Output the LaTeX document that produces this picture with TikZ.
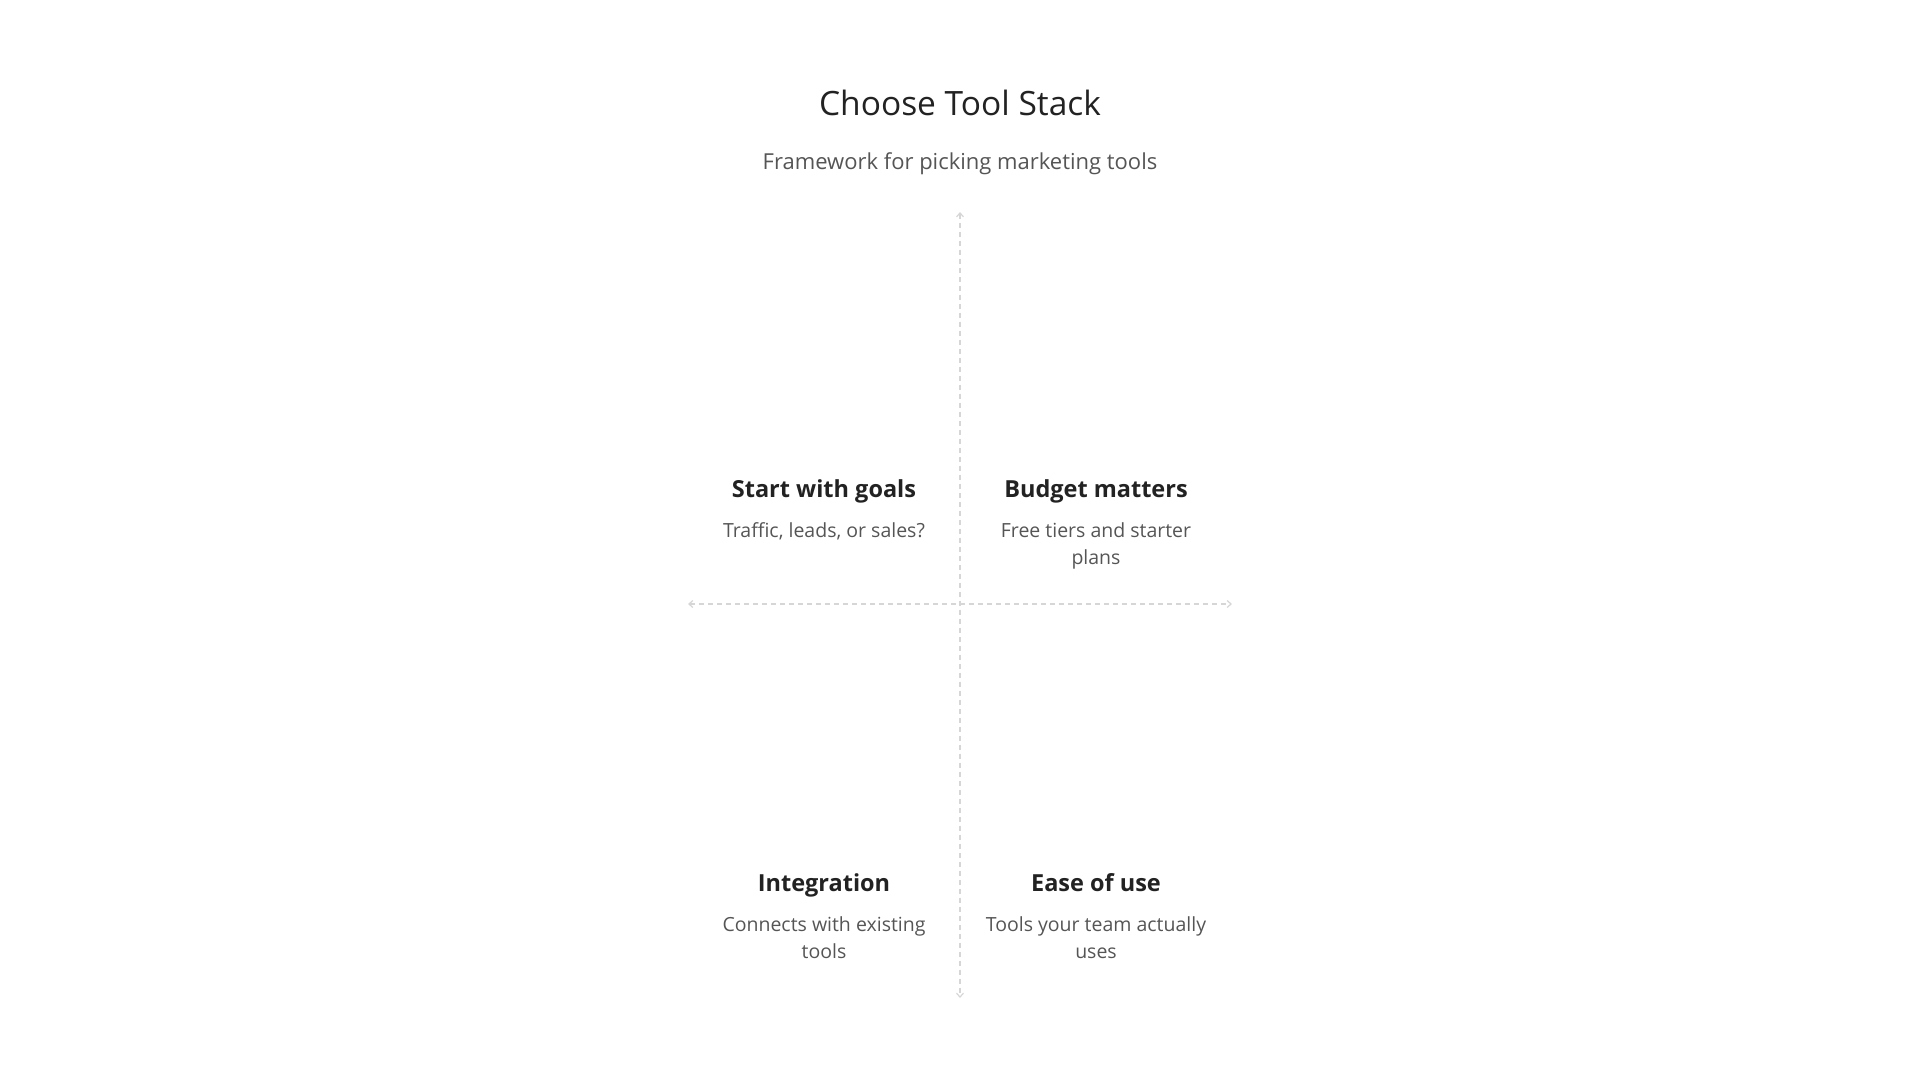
\documentclass[tikz,border=0pt]{standalone}
\usepackage{fontspec}
\setmainfont{Open Sans}
\usetikzlibrary{arrows.meta}
\definecolor{inkdark}{HTML}{222222}
\definecolor{inkgrey}{HTML}{555555}
\definecolor{axisgrey}{HTML}{D6D6D6}
\begin{document}
\begin{tikzpicture}[x=1pt,y=-1pt,
    qtitle/.style={font=\fontsize{23.5}{28}\selectfont\bfseries,text=inkdark,anchor=base},
    qdesc/.style={font=\fontsize{19.5}{27}\selectfont,text=inkgrey,align=center,anchor=north},
    axis/.style={draw=axisgrey,line width=1.2pt,dash pattern=on 5pt off 4pt,{Straight Barb[length=4pt,width=7pt]}-{Straight Barb[length=4pt,width=7pt]}}]
  \useasboundingbox (0,0) rectangle (1920,1080);
  \node[font=\fontsize{33.5}{38}\selectfont,text=inkdark] (Title) at (960,103) {Choose Tool Stack};
  \node[font=\fontsize{22}{26}\selectfont,text=inkgrey] (Subtitle) at (960,163.5) {Framework for picking marketing tools};
  \coordinate (Top) at (960,212);
  \coordinate (Bottom) at (960,998);
  \coordinate (Left) at (688,604);
  \coordinate (Right) at (1232,604);
  \draw[axis] (Top) -- (Bottom);
  \draw[axis] (Left) -- (Right);
  \node[qtitle] (Goals) at (824,497) {Start with goals};
  \node[qdesc] (GoalsDesc) at (824,519) {Traffic, leads, or sales?};
  \node[qtitle] (Budget) at (1096,497) {Budget matters};
  \node[qdesc] (BudgetDesc) at (1096,519) {Free tiers and starter\\plans};
  \node[qtitle] (Integration) at (824,891) {Integration};
  \node[qdesc] (IntegrationDesc) at (824,913) {Connects with existing\\tools};
  \node[qtitle] (Ease) at (1096,891) {Ease of use};
  \node[qdesc] (EaseDesc) at (1096,913) {Tools your team actually\\uses};
\end{tikzpicture}
\end{document}
